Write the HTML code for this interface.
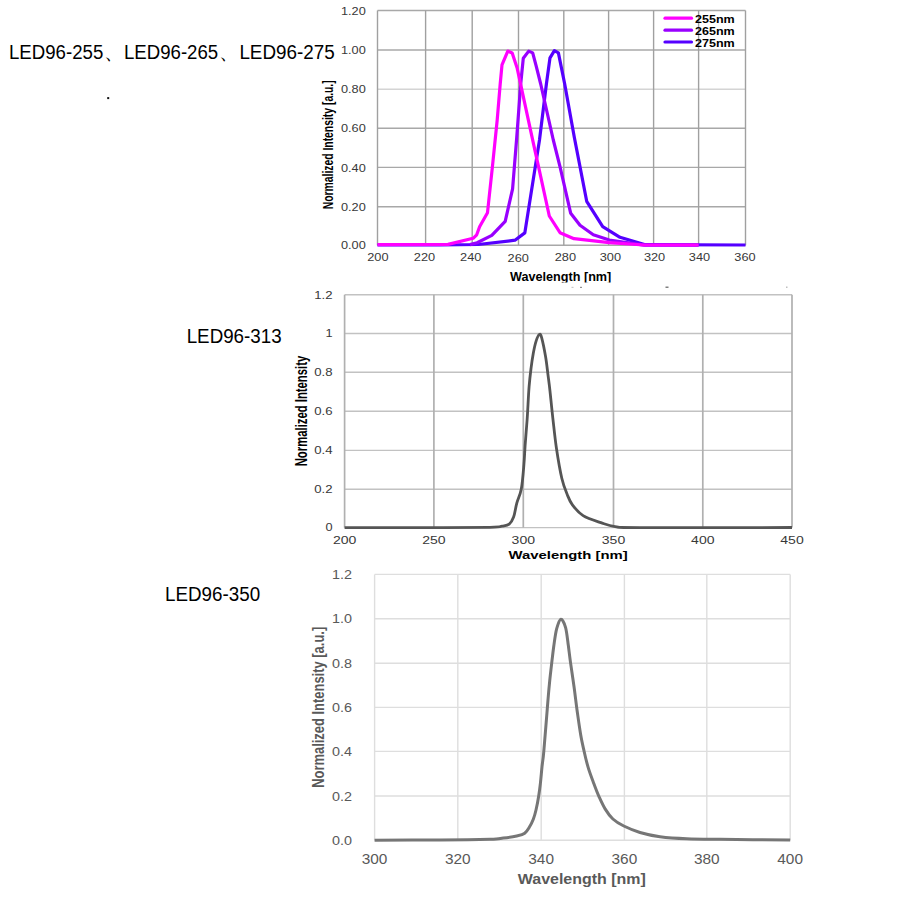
<!DOCTYPE html><html><head><meta charset="utf-8"><style>
html,body{margin:0;padding:0;background:#fff;width:900px;height:900px;overflow:hidden}
svg{position:absolute;left:0;top:0;display:block}
text{font-family:"Liberation Sans",sans-serif}
</style></head><body>
<svg width="900" height="900" viewBox="0 0 900 900">
<line x1="377.5" y1="10.5" x2="745.5" y2="10.5" stroke="#a8a8a8" stroke-width="1.4"/>
<line x1="377.5" y1="50.0" x2="745.5" y2="50.0" stroke="#a8a8a8" stroke-width="1.4"/>
<line x1="377.5" y1="89.2" x2="745.5" y2="89.2" stroke="#d4d4d4" stroke-width="1.4"/>
<line x1="377.5" y1="128.2" x2="745.5" y2="128.2" stroke="#a8a8a8" stroke-width="1.4"/>
<line x1="377.5" y1="167.4" x2="745.5" y2="167.4" stroke="#a8a8a8" stroke-width="1.4"/>
<line x1="377.5" y1="206.7" x2="745.5" y2="206.7" stroke="#a8a8a8" stroke-width="1.4"/>
<line x1="377.5" y1="245.2" x2="745.5" y2="245.2" stroke="#a8a8a8" stroke-width="1.4"/>
<line x1="377.5" y1="10.5" x2="377.5" y2="245.2" stroke="#a0a0a0" stroke-width="1.4"/>
<line x1="425.6" y1="10.5" x2="425.6" y2="245.2" stroke="#a0a0a0" stroke-width="1.4"/>
<line x1="472.2" y1="10.5" x2="472.2" y2="245.2" stroke="#a0a0a0" stroke-width="1.4"/>
<line x1="518.5" y1="10.5" x2="518.5" y2="245.2" stroke="#a0a0a0" stroke-width="1.4"/>
<line x1="563.8" y1="10.5" x2="563.8" y2="245.2" stroke="#a0a0a0" stroke-width="1.4"/>
<line x1="608.6" y1="10.5" x2="608.6" y2="245.2" stroke="#a0a0a0" stroke-width="1.4"/>
<line x1="653.6" y1="10.5" x2="653.6" y2="245.2" stroke="#a0a0a0" stroke-width="1.4"/>
<line x1="698.6" y1="10.5" x2="698.6" y2="245.2" stroke="#a0a0a0" stroke-width="1.4"/>
<line x1="745.5" y1="10.5" x2="745.5" y2="245.2" stroke="#a0a0a0" stroke-width="1.4"/>
<polyline points="377.5,245.0 440.0,244.8 478.3,244.5 515.0,240.2 524.8,232.9 539.5,140.0 546.4,84.0 550.0,57.8 554.4,50.7 558.4,52.9 564.7,84.0 574.4,137.8 586.7,201.3 602.7,226.7 620.0,237.3 645.3,244.7 745.5,245.0" fill="none" stroke="#5500ff" stroke-width="3.2" stroke-linejoin="round"/>
<polyline points="470.0,244.6 477.1,242.7 491.8,235.4 505.2,221.3 512.6,188.9 516.7,137.8 520.7,84.0 523.3,58.2 528.7,51.1 532.7,52.9 536.2,66.2 540.7,84.0 553.3,140.0 560.0,166.7 570.7,213.3 580.0,225.3 593.3,234.7 609.3,240.0 644.0,245.1 698.6,245.1" fill="none" stroke="#9900ff" stroke-width="3.2" stroke-linejoin="round"/>
<polyline points="377.5,244.6 448.0,244.4 473.1,238.3 476.7,234.8 479.6,226.8 487.5,212.7 492.4,166.9 497.2,120.0 500.2,84.0 502.0,64.9 507.8,51.1 512.2,52.9 517.2,68.3 532.2,137.8 540.0,173.3 549.3,216.0 560.0,232.7 574.0,238.7 609.3,242.7 644.0,245.0 698.6,245.0" fill="none" stroke="#ff00ff" stroke-width="3.2" stroke-linejoin="round"/>
<line x1="665" y1="18.2" x2="691.5" y2="18.2" stroke="#ff00ff" stroke-width="3.2" stroke-linecap="round"/>
<text x="695.0" y="22.7" font-size="10.6" fill="#000" font-weight="bold" textLength="39.7" lengthAdjust="spacingAndGlyphs">255nm</text>
<line x1="665" y1="30.2" x2="691.5" y2="30.2" stroke="#9900ff" stroke-width="3.2" stroke-linecap="round"/>
<text x="695.0" y="34.7" font-size="10.6" fill="#000" font-weight="bold" textLength="39.7" lengthAdjust="spacingAndGlyphs">265nm</text>
<line x1="665" y1="42.0" x2="691.5" y2="42.0" stroke="#5500ff" stroke-width="3.2" stroke-linecap="round"/>
<text x="695.0" y="46.5" font-size="10.6" fill="#000" font-weight="bold" textLength="39.7" lengthAdjust="spacingAndGlyphs">275nm</text>
<text x="341.0" y="14.6" font-size="11" fill="#383838" textLength="24.8" lengthAdjust="spacingAndGlyphs">1.20</text>
<text x="341.0" y="54.1" font-size="11" fill="#383838" textLength="24.8" lengthAdjust="spacingAndGlyphs">1.00</text>
<text x="341.0" y="93.3" font-size="11" fill="#383838" textLength="24.8" lengthAdjust="spacingAndGlyphs">0.80</text>
<text x="341.0" y="132.3" font-size="11" fill="#383838" textLength="24.8" lengthAdjust="spacingAndGlyphs">0.60</text>
<text x="341.0" y="171.5" font-size="11" fill="#383838" textLength="24.8" lengthAdjust="spacingAndGlyphs">0.40</text>
<text x="341.0" y="210.8" font-size="11" fill="#383838" textLength="24.8" lengthAdjust="spacingAndGlyphs">0.20</text>
<text x="341.0" y="249.3" font-size="11" fill="#383838" textLength="24.8" lengthAdjust="spacingAndGlyphs">0.00</text>
<text x="367.2" y="260.9" font-size="10.8" fill="#383838" textLength="21.3" lengthAdjust="spacingAndGlyphs">200</text>
<text x="413.8" y="260.9" font-size="10.8" fill="#383838" textLength="21.3" lengthAdjust="spacingAndGlyphs">220</text>
<text x="460.1" y="260.9" font-size="10.8" fill="#383838" textLength="21.3" lengthAdjust="spacingAndGlyphs">240</text>
<text x="507.6" y="262.3" font-size="10.8" fill="#383838" textLength="21.3" lengthAdjust="spacingAndGlyphs">260</text>
<text x="554.7" y="260.9" font-size="10.8" fill="#383838" textLength="21.3" lengthAdjust="spacingAndGlyphs">280</text>
<text x="599.7" y="260.9" font-size="10.8" fill="#383838" textLength="21.3" lengthAdjust="spacingAndGlyphs">300</text>
<text x="643.9" y="260.9" font-size="10.8" fill="#383838" textLength="21.3" lengthAdjust="spacingAndGlyphs">320</text>
<text x="688.8" y="260.9" font-size="10.8" fill="#383838" textLength="21.3" lengthAdjust="spacingAndGlyphs">340</text>
<text x="734.3" y="260.9" font-size="10.8" fill="#383838" textLength="21.3" lengthAdjust="spacingAndGlyphs">360</text>
<clipPath id="c1t"><rect x="400" y="262" width="300" height="20.5"/></clipPath>
<text x="510.0" y="280.9" font-size="12.3" fill="#000" font-weight="bold" textLength="101.3" lengthAdjust="spacingAndGlyphs" clip-path="url(#c1t)">Wavelength [nm]</text>
<rect x="571.5" y="286.8" width="2" height="1.2" fill="#c8c8c8"/>
<rect x="580" y="286.8" width="2" height="1.2" fill="#909090"/>
<rect x="665.5" y="286.6" width="3" height="1.2" fill="#606060"/>
<rect x="786" y="286.6" width="1.5" height="1.2" fill="#b0b0b0"/>
<text transform="translate(332.7,209.3) rotate(-90)" font-size="15" font-weight="bold" fill="#000" textLength="129" lengthAdjust="spacingAndGlyphs">Normalized Intensity [a.u.]</text>
<line x1="344.6" y1="294.8" x2="792.0" y2="294.8" stroke="#c2c2c2" stroke-width="1.4"/>
<line x1="344.6" y1="333.5" x2="792.0" y2="333.5" stroke="#c2c2c2" stroke-width="1.4"/>
<line x1="344.6" y1="372.2" x2="792.0" y2="372.2" stroke="#c2c2c2" stroke-width="1.4"/>
<line x1="344.6" y1="411.3" x2="792.0" y2="411.3" stroke="#c2c2c2" stroke-width="1.4"/>
<line x1="344.6" y1="450.4" x2="792.0" y2="450.4" stroke="#c2c2c2" stroke-width="1.4"/>
<line x1="344.6" y1="489.2" x2="792.0" y2="489.2" stroke="#c2c2c2" stroke-width="1.4"/>
<line x1="344.6" y1="527.6" x2="792.0" y2="527.6" stroke="#c2c2c2" stroke-width="1.4"/>
<line x1="344.6" y1="294.8" x2="344.6" y2="527.6" stroke="#b0b0b0" stroke-width="1.7"/>
<line x1="433.9" y1="294.8" x2="433.9" y2="527.6" stroke="#b0b0b0" stroke-width="1.7"/>
<line x1="523.3" y1="294.8" x2="523.3" y2="527.6" stroke="#b0b0b0" stroke-width="1.7"/>
<line x1="613.5" y1="294.8" x2="613.5" y2="527.6" stroke="#b0b0b0" stroke-width="1.7"/>
<line x1="702.8" y1="294.8" x2="702.8" y2="527.6" stroke="#b0b0b0" stroke-width="1.7"/>
<line x1="792.0" y1="294.8" x2="792.0" y2="527.6" stroke="#b0b0b0" stroke-width="1.7"/>
<path d="M344.6,527.6 C357.2,527.6 395.8,527.7 420.0,527.6 C444.2,527.5 476.3,527.5 490.0,527.3 C503.7,527.0 498.9,526.6 502.1,526.1 C505.3,525.6 507.3,525.7 509.2,524.2 C511.1,522.7 512.3,520.6 513.6,517.1 C514.9,513.6 515.5,507.8 516.8,503.1 C518.1,498.4 520.1,495.4 521.3,489.0 C522.5,482.6 523.3,471.9 523.9,464.7 C524.5,457.5 524.6,453.1 525.1,445.6 C525.6,438.2 526.4,429.8 527.1,420.0 C527.8,410.2 528.4,395.4 529.1,386.7 C529.8,378.0 530.4,373.4 531.1,367.8 C531.8,362.2 532.5,357.8 533.3,353.3 C534.1,348.9 535.1,344.2 536.1,341.1 C537.1,338.0 538.5,334.9 539.4,334.4 C540.3,333.8 540.7,334.1 541.7,337.8 C542.7,341.5 544.6,350.8 545.6,356.7 C546.6,362.6 547.1,367.6 547.8,373.3 C548.5,379.0 549.2,383.7 550.0,391.1 C550.8,398.5 551.7,408.3 552.8,417.8 C553.9,427.3 554.9,437.9 556.4,448.0 C557.9,458.1 560.0,470.5 561.8,478.2 C563.6,485.9 565.3,489.8 567.1,494.2 C568.9,498.6 569.7,501.3 572.4,504.9 C575.1,508.5 578.4,512.6 583.1,515.6 C587.9,518.6 595.6,520.9 600.9,522.7 C606.2,524.5 608.6,525.8 615.1,526.6 C621.6,527.4 610.5,527.5 640.0,527.6 C669.5,527.8 766.7,527.5 792.0,527.5" fill="none" stroke="#555" stroke-width="2.8" stroke-linejoin="round"/>
<text x="314.3" y="298.5" font-size="10.5" fill="#383838" textLength="18.3" lengthAdjust="spacingAndGlyphs">1.2</text>
<text x="325.5" y="337.2" font-size="10.5" fill="#383838" textLength="7.1" lengthAdjust="spacingAndGlyphs">1</text>
<text x="314.3" y="375.9" font-size="10.5" fill="#383838" textLength="18.3" lengthAdjust="spacingAndGlyphs">0.8</text>
<text x="314.3" y="415.0" font-size="10.5" fill="#383838" textLength="18.3" lengthAdjust="spacingAndGlyphs">0.6</text>
<text x="314.3" y="454.1" font-size="10.5" fill="#383838" textLength="18.3" lengthAdjust="spacingAndGlyphs">0.4</text>
<text x="314.3" y="492.9" font-size="10.5" fill="#383838" textLength="18.3" lengthAdjust="spacingAndGlyphs">0.2</text>
<text x="325.5" y="531.3" font-size="10.5" fill="#383838" textLength="7.1" lengthAdjust="spacingAndGlyphs">0</text>
<text x="332.9" y="543.9" font-size="11" fill="#383838" textLength="23.4" lengthAdjust="spacingAndGlyphs">200</text>
<text x="422.2" y="543.9" font-size="11" fill="#383838" textLength="23.4" lengthAdjust="spacingAndGlyphs">250</text>
<text x="511.6" y="543.9" font-size="11" fill="#383838" textLength="23.4" lengthAdjust="spacingAndGlyphs">300</text>
<text x="601.8" y="543.9" font-size="11" fill="#383838" textLength="23.4" lengthAdjust="spacingAndGlyphs">350</text>
<text x="691.1" y="543.9" font-size="11" fill="#383838" textLength="23.4" lengthAdjust="spacingAndGlyphs">400</text>
<text x="780.3" y="543.9" font-size="11" fill="#383838" textLength="23.4" lengthAdjust="spacingAndGlyphs">450</text>
<text x="508.6" y="558.7" font-size="11.3" fill="#000" font-weight="bold" textLength="119" lengthAdjust="spacingAndGlyphs">Wavelength [nm]</text>
<text transform="translate(306.8,466.3) rotate(-90)" font-size="16.5" font-weight="bold" fill="#000" textLength="110.5" lengthAdjust="spacingAndGlyphs">Normalized Intensity</text>
<line x1="374.6" y1="574.4" x2="790.2" y2="574.4" stroke="#dedede" stroke-width="1.4"/>
<line x1="374.6" y1="618.8" x2="790.2" y2="618.8" stroke="#dedede" stroke-width="1.4"/>
<line x1="374.6" y1="663.2" x2="790.2" y2="663.2" stroke="#dedede" stroke-width="1.4"/>
<line x1="374.6" y1="707.4" x2="790.2" y2="707.4" stroke="#dedede" stroke-width="1.4"/>
<line x1="374.6" y1="751.4" x2="790.2" y2="751.4" stroke="#dedede" stroke-width="1.4"/>
<line x1="374.6" y1="796.0" x2="790.2" y2="796.0" stroke="#dedede" stroke-width="1.4"/>
<line x1="374.6" y1="840.2" x2="790.2" y2="840.2" stroke="#dedede" stroke-width="1.4"/>
<line x1="374.6" y1="574.4" x2="374.6" y2="840.2" stroke="#dedede" stroke-width="1.4"/>
<line x1="457.8" y1="574.4" x2="457.8" y2="840.2" stroke="#dedede" stroke-width="1.4"/>
<line x1="541.2" y1="574.4" x2="541.2" y2="840.2" stroke="#dedede" stroke-width="1.4"/>
<line x1="624.4" y1="574.4" x2="624.4" y2="840.2" stroke="#dedede" stroke-width="1.4"/>
<line x1="706.8" y1="574.4" x2="706.8" y2="840.2" stroke="#dedede" stroke-width="1.4"/>
<line x1="790.2" y1="574.4" x2="790.2" y2="840.2" stroke="#dedede" stroke-width="1.4"/>
<path d="M374.6,840.2 C385.5,840.2 420.8,840.1 440.0,840.0 C459.2,839.9 479.4,839.6 490.0,839.3 C500.6,839.0 498.9,838.5 503.3,838.0 C507.8,837.5 513.1,836.8 516.7,836.0 C520.3,835.2 522.6,834.8 524.7,833.3 C526.8,831.8 527.9,829.6 529.3,827.3 C530.7,825.0 532.2,822.2 533.3,819.3 C534.4,816.4 535.1,813.9 536.0,810.0 C536.9,806.1 538.0,800.5 538.7,796.0 C539.4,791.5 539.8,788.5 540.4,783.3 C541.0,778.1 541.6,770.3 542.2,765.0 C542.8,759.7 543.0,760.5 543.8,751.3 C544.6,742.1 546.3,721.0 547.2,709.8 C548.1,698.6 548.6,692.0 549.4,684.2 C550.1,676.4 551.0,669.6 551.7,663.1 C552.5,656.6 553.1,651.0 553.9,645.3 C554.7,639.6 555.5,633.1 556.7,628.7 C557.9,624.4 559.4,619.4 560.9,619.2 C562.4,619.0 564.4,623.2 565.6,627.6 C566.8,632.0 567.5,639.4 568.3,645.3 C569.1,651.2 569.6,656.0 570.6,663.1 C571.6,670.2 573.1,679.9 574.2,688.0 C575.3,696.1 576.2,704.3 577.3,712.0 C578.4,719.7 579.5,727.7 580.6,734.2 C581.7,740.8 582.9,745.8 584.1,751.3 C585.3,756.8 586.5,761.7 588.0,766.9 C589.5,772.1 591.6,777.5 593.4,782.4 C595.2,787.3 596.9,792.0 598.9,796.4 C600.9,800.8 602.8,805.1 605.1,808.9 C607.4,812.7 609.8,816.1 612.9,819.0 C616.0,821.9 619.3,823.8 623.8,826.0 C628.3,828.2 634.0,830.7 640.0,832.5 C646.0,834.3 652.2,835.7 660.0,836.7 C667.8,837.7 676.7,838.3 686.7,838.7 C696.7,839.1 702.8,839.1 720.0,839.3 C737.2,839.5 778.5,839.9 790.2,840.0" fill="none" stroke="#767676" stroke-width="3" stroke-linejoin="round"/>
<text x="331.9" y="579.0" font-size="13.5" fill="#595959" textLength="20" lengthAdjust="spacingAndGlyphs">1.2</text>
<text x="331.9" y="623.4" font-size="13.5" fill="#595959" textLength="20" lengthAdjust="spacingAndGlyphs">1.0</text>
<text x="331.9" y="667.8" font-size="13.5" fill="#595959" textLength="20" lengthAdjust="spacingAndGlyphs">0.8</text>
<text x="331.9" y="712.0" font-size="13.5" fill="#595959" textLength="20" lengthAdjust="spacingAndGlyphs">0.6</text>
<text x="331.9" y="756.0" font-size="13.5" fill="#595959" textLength="20" lengthAdjust="spacingAndGlyphs">0.4</text>
<text x="331.9" y="800.6" font-size="13.5" fill="#595959" textLength="20" lengthAdjust="spacingAndGlyphs">0.2</text>
<text x="331.9" y="844.8" font-size="13.5" fill="#595959" textLength="20" lengthAdjust="spacingAndGlyphs">0.0</text>
<text x="361.7" y="864.4" font-size="14" fill="#595959" textLength="25.7" lengthAdjust="spacingAndGlyphs">300</text>
<text x="444.9" y="864.4" font-size="14" fill="#595959" textLength="25.7" lengthAdjust="spacingAndGlyphs">320</text>
<text x="528.3" y="864.4" font-size="14" fill="#595959" textLength="25.7" lengthAdjust="spacingAndGlyphs">340</text>
<text x="611.5" y="864.4" font-size="14" fill="#595959" textLength="25.7" lengthAdjust="spacingAndGlyphs">360</text>
<text x="693.9" y="864.4" font-size="14" fill="#595959" textLength="25.7" lengthAdjust="spacingAndGlyphs">380</text>
<text x="777.3" y="864.4" font-size="14" fill="#595959" textLength="25.7" lengthAdjust="spacingAndGlyphs">400</text>
<text x="517.8" y="884.0" font-size="15.4" fill="#595959" font-weight="bold" textLength="128" lengthAdjust="spacingAndGlyphs">Wavelength [nm]</text>
<text transform="translate(323.7,787.8) rotate(-90)" font-size="17" font-weight="bold" fill="#595959" textLength="161" lengthAdjust="spacingAndGlyphs">Normalized Intensity [a.u.]</text>
<text x="9.0" y="59.0" font-size="19.7" fill="#000" textLength="94.3" lengthAdjust="spacingAndGlyphs">LED96-255</text>
<text x="104.0" y="59.0" font-size="19.7" fill="#000">、</text>
<text x="123.9" y="59.0" font-size="19.7" fill="#000" textLength="94.3" lengthAdjust="spacingAndGlyphs">LED96-265</text>
<text x="219.0" y="59.0" font-size="19.7" fill="#000">、</text>
<text x="239.4" y="59.0" font-size="19.7" fill="#000" textLength="95.3" lengthAdjust="spacingAndGlyphs">LED96-275</text>
<rect x="107.2" y="97.1" width="2" height="2" fill="#111"/>
<text x="186.7" y="343.0" font-size="19.7" fill="#000" textLength="94.9" lengthAdjust="spacingAndGlyphs">LED96-313</text>
<text x="165.0" y="600.7" font-size="19.7" fill="#000" textLength="95.1" lengthAdjust="spacingAndGlyphs">LED96-350</text>
</svg></body></html>
